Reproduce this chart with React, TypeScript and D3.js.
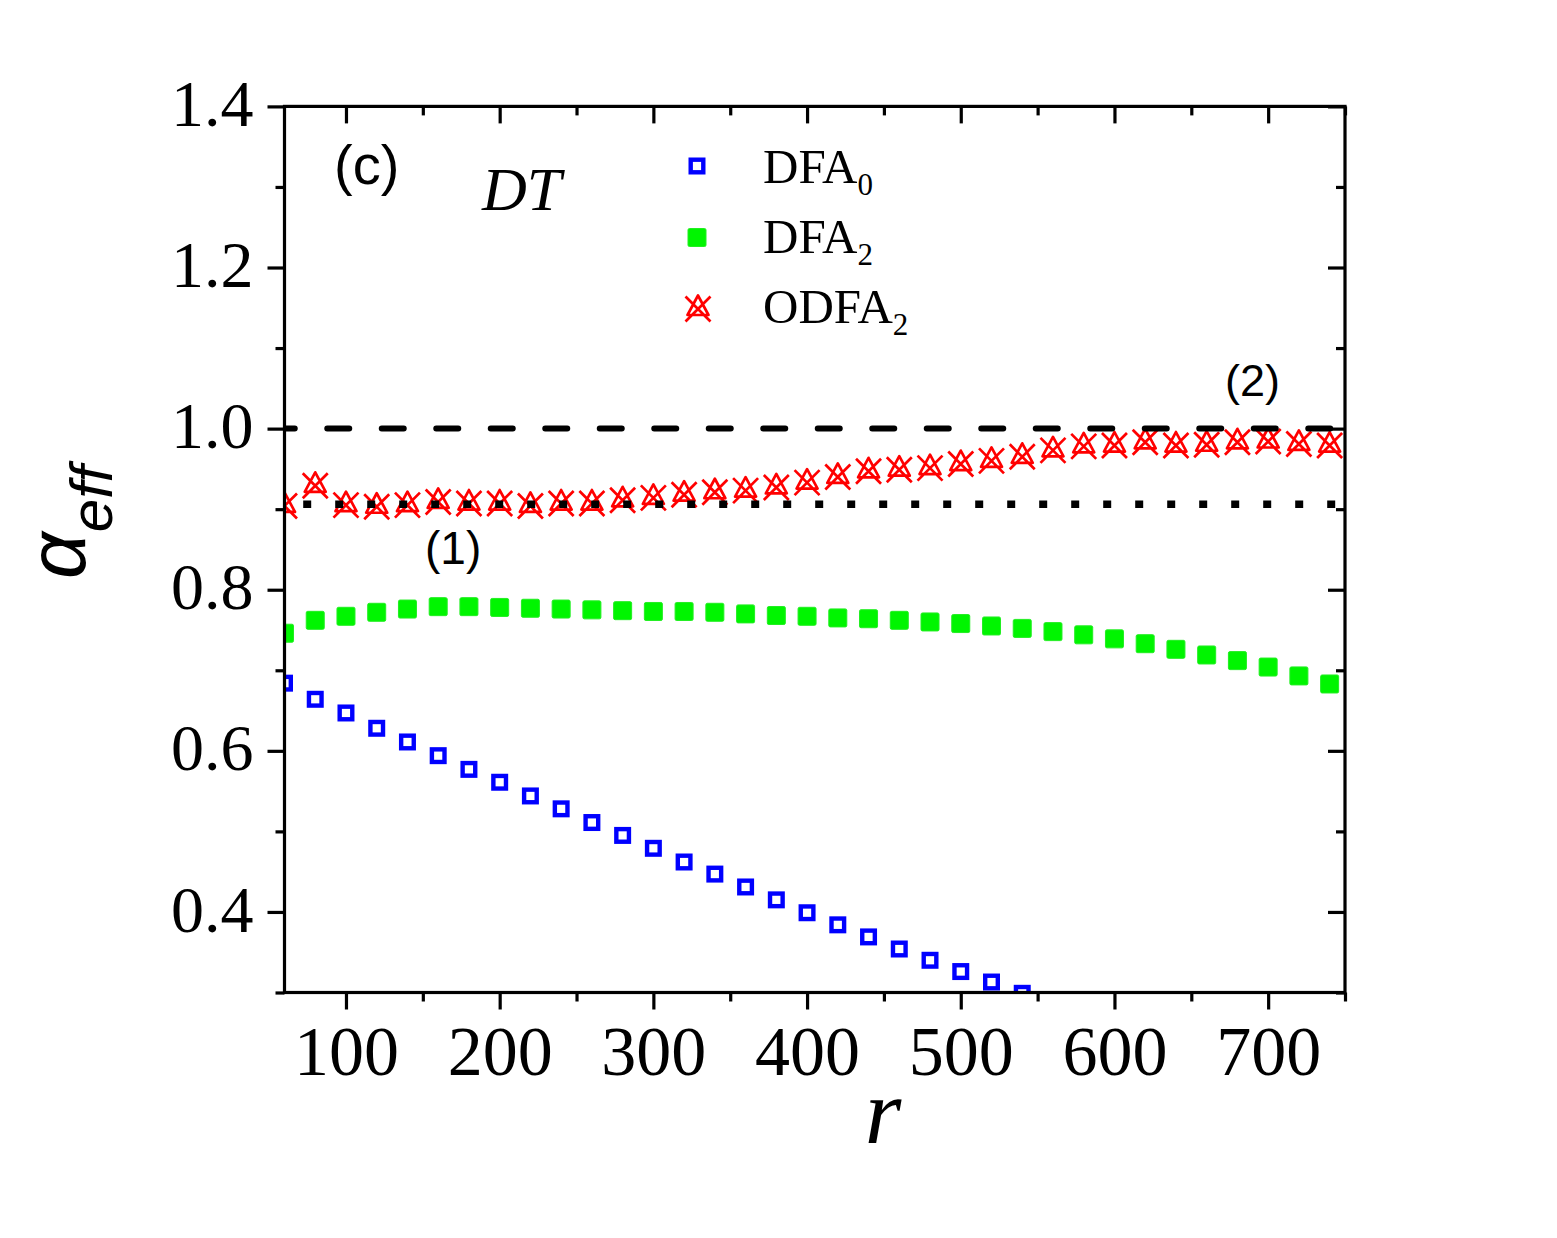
import React, { useEffect, useRef } from 'react';
import * as d3 from 'd3';

// r values (window scale) shared by every series
const rValues = [60, 80, 100, 120, 140, 160, 180, 200, 220, 240, 260, 280, 300, 320, 340, 360, 380, 400,
  420, 440, 460, 480, 500, 520, 540, 560, 580, 600, 620, 640, 660, 680, 700, 720, 740];

// DFA0 drops below the axis after r = 540, so only the visible part is kept
const dfa0 = [0.684, 0.664, 0.647, 0.628, 0.611, 0.594, 0.577, 0.561, 0.544, 0.528, 0.511, 0.495, 0.479,
  0.462, 0.447, 0.431, 0.415, 0.399, 0.384, 0.369, 0.354, 0.340, 0.326, 0.313, 0.299];

const dfa2 = [0.746, 0.762, 0.767, 0.772, 0.776, 0.779, 0.779, 0.778, 0.777, 0.776, 0.775, 0.774, 0.773,
  0.773, 0.772, 0.770, 0.768, 0.767, 0.765, 0.764, 0.762, 0.760, 0.758, 0.755, 0.752, 0.748, 0.744, 0.739,
  0.733, 0.726, 0.719, 0.712, 0.704, 0.693, 0.683];

const odfa2 = [0.904, 0.929, 0.905, 0.903, 0.905, 0.909, 0.907, 0.907, 0.904, 0.907, 0.907, 0.911, 0.914,
  0.918, 0.921, 0.923, 0.927, 0.933, 0.940, 0.947, 0.949, 0.951, 0.956, 0.960, 0.965, 0.973, 0.978, 0.979,
  0.983, 0.979, 0.980, 0.983, 0.984, 0.981, 0.979];

const refTheory = 1.0;   // dashed line
const refFit = 0.906;    // dotted line

const xMajor = [100, 200, 300, 400, 500, 600, 700];
const xMinor = [150, 250, 350, 450, 550, 650, 750];
const yMajor = [0.4, 0.6, 0.8, 1.0, 1.2, 1.4];
const yMinor = [0.3, 0.5, 0.7, 0.9, 1.1, 1.3];

const legendItems = [
  { name: 'DFA', sub: '0', kind: 'open' },
  { name: 'DFA', sub: '2', kind: 'filled' },
  { name: 'ODFA', sub: '2', kind: 'cross' },
];

const SERIF = '"Liberation Serif", "Times New Roman", serif';
const SANS = '"Liberation Sans", Arial, sans-serif';

export default function App() {
  const ref = useRef(null);

  useEffect(() => {
    const svg = d3.select(ref.current);
    svg.selectAll('*').remove();

    const left = 284.5, right = 1345, top = 106.4, bottom = 992.5;
    const x = d3.scaleLinear().domain([60, 750]).range([left, right]);
    const y = d3.scaleLinear().domain([0.3, 1.4]).range([bottom, top]);

    svg.append('rect').attr('width', 1557).attr('height', 1238).attr('fill', '#fff');

    svg.append('clipPath').attr('id', 'plot-clip')
      .append('rect').attr('x', left).attr('y', top).attr('width', right - left).attr('height', bottom - top);

    // marker drawers
    const drawOpen = (g, cx, cy) => g.append('rect')
      .attr('x', cx - 6.3).attr('y', cy - 6.3).attr('width', 12.6).attr('height', 12.6)
      .attr('fill', 'none').attr('stroke', '#0000ff').attr('stroke-width', 4.4);
    const drawFilled = (g, cx, cy) => g.append('rect')
      .attr('x', cx - 9).attr('y', cy - 9).attr('width', 18).attr('height', 18)
      .attr('rx', 1.5).attr('fill', '#00f500').attr('stroke', '#22ee22').attr('stroke-width', 1);
    const drawCross = (g, cx, cy) => {
      const p = d3.path();
      p.moveTo(cx - 12.5, cy - 12.5); p.lineTo(cx + 12.5, cy + 12.5);
      p.moveTo(cx + 12.5, cy - 12.5); p.lineTo(cx - 12.5, cy + 12.5);
      p.moveTo(cx, cy - 13.5); p.lineTo(cx + 10.5, cy + 6); p.lineTo(cx - 10.5, cy + 6); p.closePath();
      g.append('path').attr('d', p.toString())
        .attr('fill', 'none').attr('stroke', '#ff0000').attr('stroke-width', 2.7).attr('stroke-linejoin', 'round');
    };

    const plot = svg.append('g').attr('clip-path', 'url(#plot-clip)');

    dfa0.forEach((v, i) => drawOpen(plot, x(rValues[i]), y(v)));
    dfa2.forEach((v, i) => drawFilled(plot, x(rValues[i]), y(v)));
    odfa2.forEach((v, i) => drawCross(plot, x(rValues[i]), y(v)));

    // reference lines
    plot.append('line')
      .attr('x1', left).attr('x2', right).attr('y1', y(refTheory)).attr('y2', y(refTheory))
      .attr('stroke', '#000').attr('stroke-width', 6).attr('stroke-linecap', 'round')
      .attr('stroke-dasharray', '22 32.5').attr('stroke-dashoffset', 11.75);
    plot.append('line')
      .attr('x1', left).attr('x2', right).attr('y1', y(refFit)).attr('y2', y(refFit))
      .attr('stroke', '#000').attr('stroke-width', 7.5)
      .attr('stroke-dasharray', '8 24').attr('stroke-dashoffset', 13.3);

    // axes: left/bottom ticks outward with labels, top/right ticks inward
    const styleAxis = (g) => {
      g.select('.domain').remove();
      g.selectAll('line').attr('stroke', '#000').attr('stroke-width', 3.2);
    };

    const bottomG = svg.append('g').attr('transform', `translate(0,${bottom})`);
    bottomG.append('g').call(d3.axisBottom(x).tickValues(xMajor).tickSize(17).tickPadding(16).tickFormat(d3.format('d')))
      .call(styleAxis)
      .selectAll('text').attr('font-family', SERIF).attr('font-size', 70).attr('fill', '#000');
    bottomG.append('g').call(d3.axisBottom(x).tickValues(xMinor).tickSize(9).tickFormat(() => '')).call(styleAxis);

    const topG = svg.append('g').attr('transform', `translate(0,${top})`);
    topG.append('g').call(d3.axisBottom(x).tickValues(xMajor).tickSize(17).tickFormat(() => '')).call(styleAxis);
    topG.append('g').call(d3.axisBottom(x).tickValues(xMinor).tickSize(9).tickFormat(() => '')).call(styleAxis);

    const leftG = svg.append('g').attr('transform', `translate(${left},0)`);
    leftG.append('g').call(d3.axisLeft(y).tickValues(yMajor).tickSize(17).tickPadding(14).tickFormat(d3.format('.1f')))
      .call(styleAxis)
      .selectAll('text').attr('font-family', SERIF).attr('font-size', 66).attr('fill', '#000').attr('dy', '0.29em');
    leftG.append('g').call(d3.axisLeft(y).tickValues(yMinor).tickSize(9).tickFormat(() => '')).call(styleAxis);

    const rightG = svg.append('g').attr('transform', `translate(${right},0)`);
    rightG.append('g').call(d3.axisLeft(y).tickValues(yMajor).tickSize(17).tickFormat(() => '')).call(styleAxis);
    rightG.append('g').call(d3.axisLeft(y).tickValues(yMinor).tickSize(9).tickFormat(() => '')).call(styleAxis);

    // frame
    svg.append('rect')
      .attr('x', left).attr('y', top).attr('width', right - left).attr('height', bottom - top)
      .attr('fill', 'none').attr('stroke', '#000').attr('stroke-width', 3.2);

    // axis titles
    svg.append('text')
      .attr('x', 883).attr('y', 1143).attr('text-anchor', 'middle')
      .attr('font-family', SERIF).attr('font-style', 'italic').attr('font-size', 94)
      .text('r');

    const yt = svg.append('text')
      .attr('transform', 'translate(85,579) rotate(-90)')
      .attr('font-family', SANS).attr('font-style', 'italic');
    yt.append('tspan').attr('font-size', 82).text('α');
    yt.append('tspan').attr('font-size', 60).attr('dy', 27).text('eff');

    // panel annotations
    svg.append('text').attr('x', 334).attr('y', 184)
      .attr('font-family', SANS).attr('font-size', 56).text('(c)');
    svg.append('text').attr('x', 482).attr('y', 210)
      .attr('font-family', SERIF).attr('font-style', 'italic').attr('font-size', 62).text('DT');
    svg.append('text').attr('x', 425).attr('y', 564)
      .attr('font-family', SANS).attr('font-size', 46).text('(1)');
    svg.append('text').attr('x', 1225).attr('y', 396)
      .attr('font-family', SANS).attr('font-size', 45).text('(2)');

    // legend
    const legend = svg.append('g');
    legendItems.forEach((item, i) => {
      const cy = 166 + i * 71.5;
      if (item.kind === 'open') drawOpen(legend, 697, cy);
      else if (item.kind === 'filled') drawFilled(legend, 697, cy);
      else drawCross(legend, 698, cy);
      const t = legend.append('text')
        .attr('x', 763).attr('y', 183 + i * 70)
        .attr('font-family', SERIF).attr('font-size', 49).attr('fill', '#000');
      t.append('tspan').text(item.name);
      t.append('tspan').attr('font-size', 31).attr('dy', 12).text(item.sub);
    });
  }, []);

  return (
    <svg
      ref={ref}
      width={1557}
      height={1238}
      style={{ position: 'absolute', left: 0, top: 0, display: 'block' }}
    />
  );
}
